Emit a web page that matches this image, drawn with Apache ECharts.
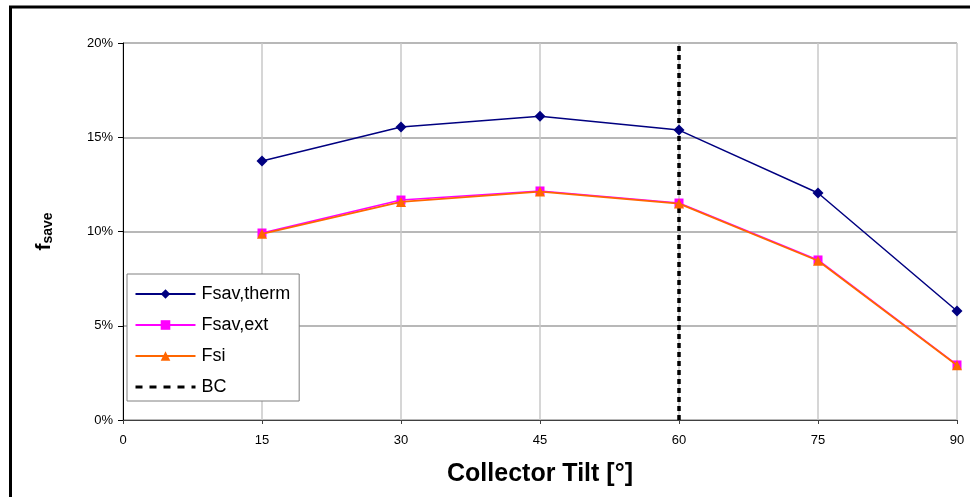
<!DOCTYPE html>
<html>
<head>
<meta charset="utf-8">
<script src="https://cdn.jsdelivr.net/npm/echarts@6/dist/echarts.min.js"></script>
<style>html,body{margin:0;padding:0;background:#fff}#c{width:970px;height:497px}</style>
</head>
<body>
<div id="c"></div>
<script>
var tilt = [15, 30, 45, 60, 75, 90];
var fsavTherm = [13.74, 15.54, 16.12, 15.38, 12.04, 5.78];
var fsavExt = [9.92, 11.67, 12.15, 11.51, 8.49, 2.92];
var fsi = [9.88, 11.57, 12.12, 11.48, 8.45, 2.90];
var bcTilt = [60, 60];
var bcValue = [0, 20];
var xTicks = {min: 0, max: 90, interval: 15};
var yTicks = {min: 0, max: 20, interval: 5};

function pairs(xs, ys) { return xs.map(function (x, i) { return [x, ys[i]]; }); }

var chart = echarts.init(document.getElementById('c'), null, {renderer: 'canvas'});
var font = 'Liberation Sans, Arial, sans-serif';
chart.setOption({
  animation: false,
  backgroundColor: '#fff',
  textStyle: {fontFamily: font},
  graphic: [{
    type: 'rect', silent: true,
    shape: {x: 10.5, y: 7, width: 2000, height: 2000},
    style: {fill: 'none', stroke: '#000', lineWidth: 3}
  }],
  grid: {left: 123, right: 13, top: 43, bottom: 77},
  legend: {
    orient: 'vertical', left: 127, top: 274,
    data: ['Fsav,therm', 'Fsav,ext', 'Fsi',
      {name: 'BC', itemStyle: {opacity: 0}, lineStyle: {width: 3, type: [7, 7]}}],
    backgroundColor: '#fff', borderColor: '#808080', borderWidth: 1, borderRadius: 0,
    padding: [11, 9, 5, 7],
    itemWidth: 60, itemHeight: 12, itemGap: 13,
    textStyle: {fontFamily: font, fontSize: 18, color: '#000', padding: [0, 0, 0, 1]}
  },
  xAxis: {
    type: 'value', min: xTicks.min, max: xTicks.max, interval: xTicks.interval,
    name: 'Collector Tilt [°]', nameLocation: 'middle', nameGap: 42,
    nameTextStyle: {fontFamily: font, fontSize: 25, fontWeight: 'bold', color: '#000'},
    axisLine: {show: true, lineStyle: {color: '#404040', width: 1}},
    axisTick: {show: true, length: 4, lineStyle: {color: '#404040'}},
    axisLabel: {margin: 14, fontSize: 13, color: '#000', fontFamily: font},
    splitLine: {show: true, lineStyle: {color: '#c8c8c8', width: 1.5}}
  },
  yAxis: {
    type: 'value', min: yTicks.min, max: yTicks.max, interval: yTicks.interval,
    name: '{f|f}{s|save}', nameLocation: 'middle', nameGap: 68, nameRotate: 90,
    nameTextStyle: {
      fontFamily: font, fontSize: 20, fontWeight: 'bold', color: '#000',
      rich: {
        f: {fontFamily: font, fontSize: 21, fontWeight: 'bold', color: '#000', verticalAlign: 'bottom'},
        s: {fontFamily: font, fontSize: 14, fontWeight: 'bold', color: '#000', verticalAlign: 'bottom'}
      }
    },
    axisLine: {show: true, lineStyle: {color: '#000', width: 1}},
    axisTick: {show: true, length: 5, lineStyle: {color: '#000'}},
    axisLabel: {margin: 10, fontSize: 13, color: '#000', fontFamily: font, formatter: '{value}%'},
    splitLine: {show: true, lineStyle: {color: '#a0a0a0', width: 1.5}}
  },
  series: [
    {
      name: 'BC', type: 'line', data: pairs(bcTilt, bcValue), z: 1,
      symbol: 'none', lineStyle: {color: '#000', width: 3.5, type: [5, 4]},
      itemStyle: {color: '#000'}
    },
    {
      name: 'Fsav,therm', type: 'line', data: pairs(tilt, fsavTherm), z: 3,
      symbol: 'diamond', symbolSize: 11,
      lineStyle: {color: '#000080', width: 1.5}, itemStyle: {color: '#000080'}
    },
    {
      name: 'Fsav,ext', type: 'line', data: pairs(tilt, fsavExt), z: 4,
      symbol: 'rect', symbolSize: 9,
      lineStyle: {color: '#ff00ff', width: 1.5}, itemStyle: {color: '#ff00ff'}
    },
    {
      name: 'Fsi', type: 'line', data: pairs(tilt, fsi), z: 5,
      symbol: 'triangle', symbolSize: 10,
      lineStyle: {color: '#ff6600', width: 1.8}, itemStyle: {color: '#ff6600'}
    }
  ]
});
</script>
</body>
</html>
